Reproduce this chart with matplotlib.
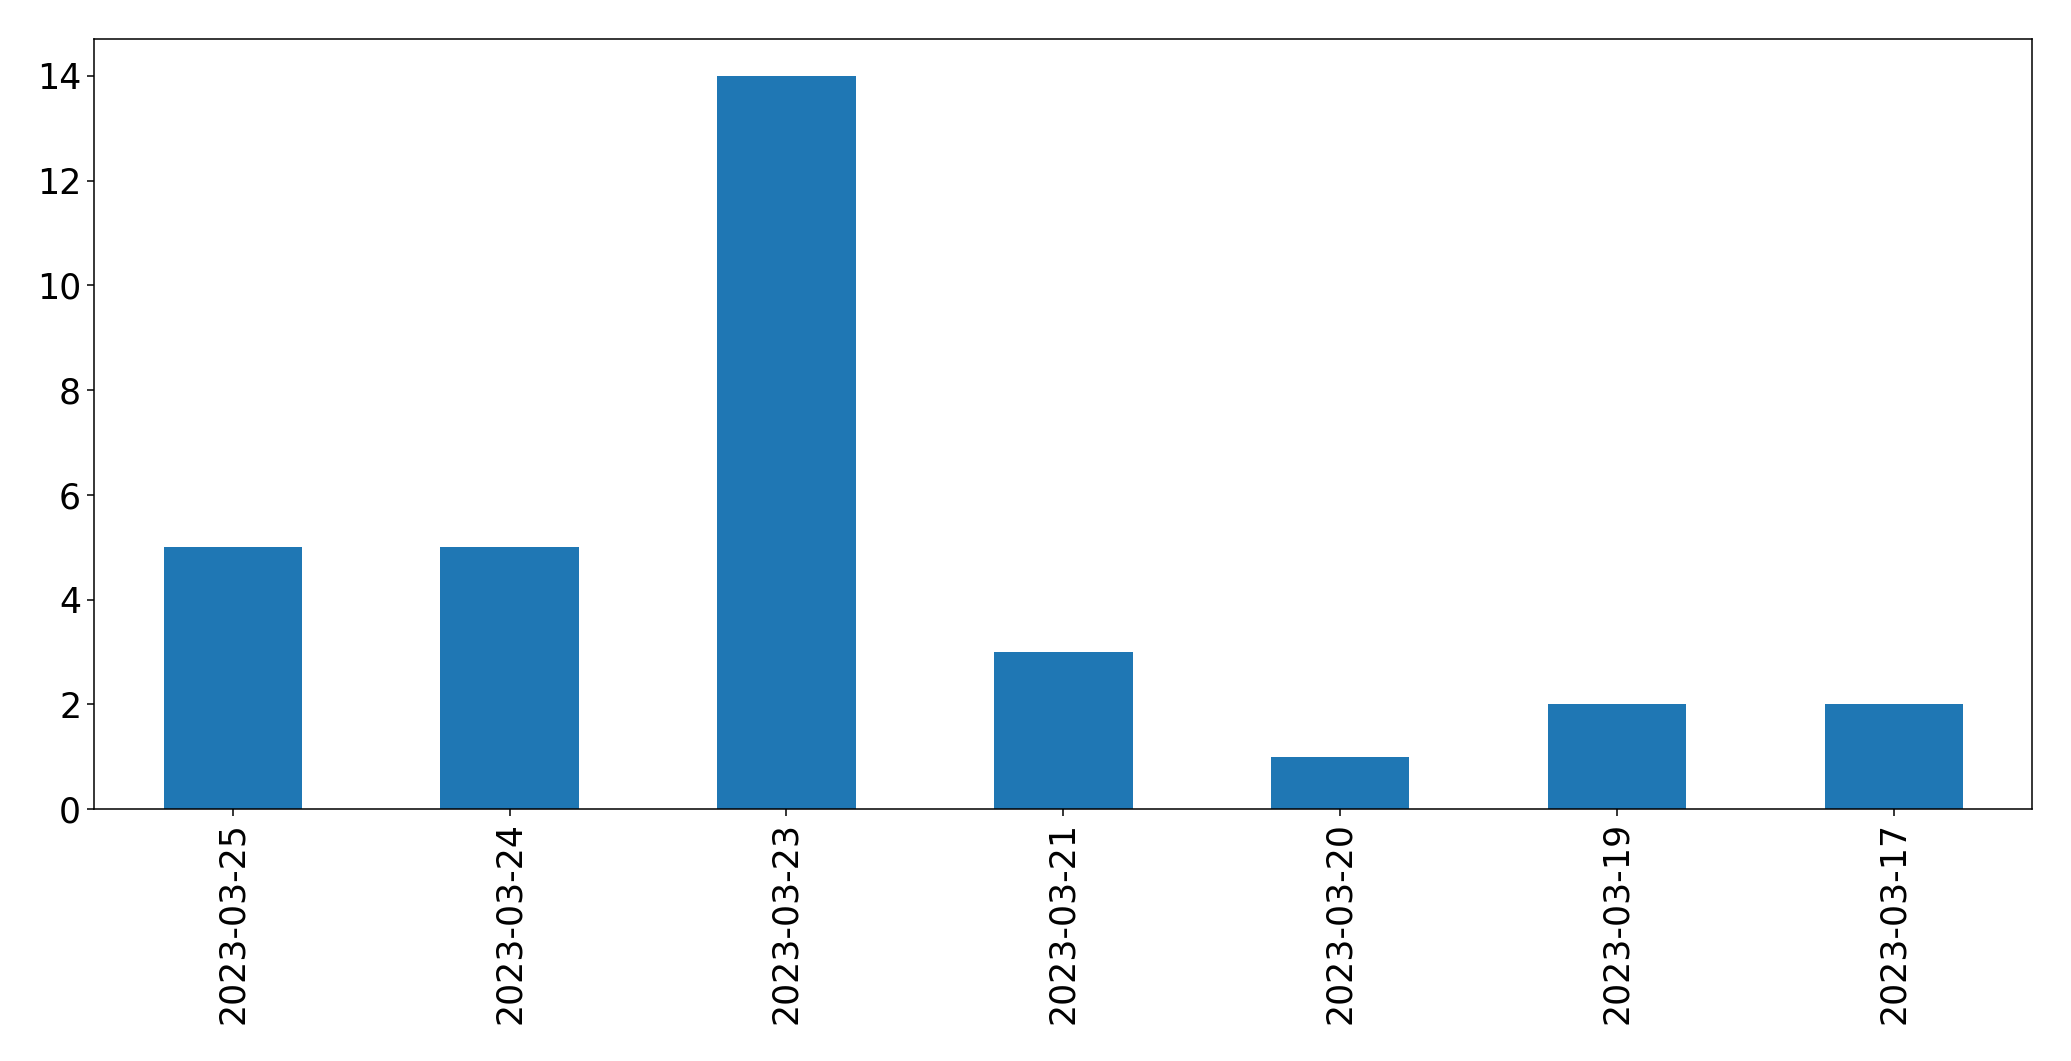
import numpy as np
import matplotlib.pyplot as plt

dates = ["2023-03-25", "2023-03-24", "2023-03-23", "2023-03-21",
         "2023-03-20", "2023-03-19", "2023-03-17"]
counts = [5, 5, 14, 3, 1, 2, 2]

fig = plt.figure(figsize=(20.71, 10.61), dpi=100)
ax = fig.add_axes([94.3 / 2071, 1 - 809 / 1061, (2032.3 - 94.3) / 2071, (809 - 39.3) / 1061])

x = np.arange(len(dates))
ax.bar(x, counts, width=0.5, color="#1f77b4")
ax.set_xlim(-0.5, len(dates) - 0.5)
ax.set_ylim(0, 14.7)
ax.set_xticks(x)
ax.set_xticklabels(dates, rotation=90)
ax.tick_params(labelsize=25, length=4.7, width=1.1, pad=4.7)
for s in ax.spines.values():
    s.set_linewidth(1.1)

fig.savefig("out.png", dpi=100)
